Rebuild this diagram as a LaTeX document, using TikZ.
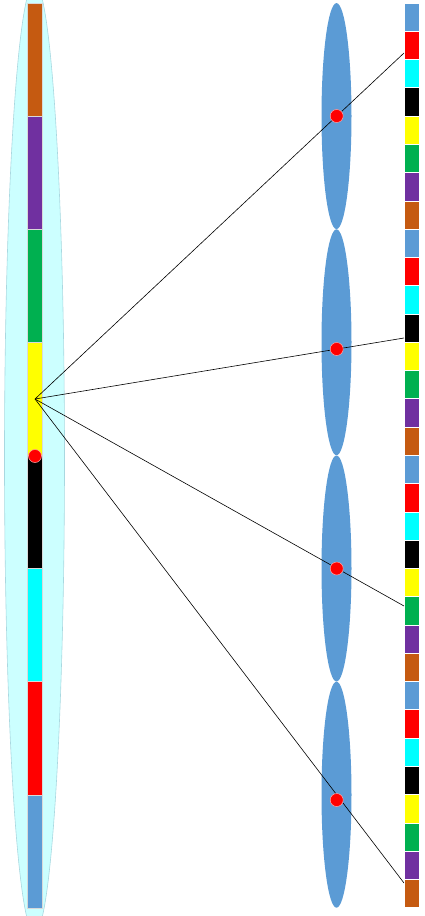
\documentclass[tikz,border=0pt]{standalone}
\usetikzlibrary{positioning,shapes.geometric}
\definecolor{orangeseg}{HTML}{C55A11}
\definecolor{purpleseg}{HTML}{7030A0}
\definecolor{greenseg}{HTML}{00B050}
\definecolor{yellowseg}{HTML}{FFFF00}
\definecolor{blackseg}{HTML}{000000}
\definecolor{cyanseg}{HTML}{00FFFF}
\definecolor{redseg}{HTML}{FF0000}
\definecolor{blueseg}{HTML}{5B9BD5}
\definecolor{paleaqua}{HTML}{CCFFFF}
\definecolor{aquarim}{HTML}{A9D8E0}
\tikzset{bigpod/.style={ellipse,draw=aquarim,line width=.6pt,fill=paleaqua,minimum width=60pt,minimum height=950pt,inner sep=0pt},lens/.style={ellipse,fill=blueseg,minimum width=30pt,minimum height=226pt,inner sep=0pt},lseg/.style={draw=white!85!black,line width=.4pt,minimum width=15pt,minimum height=113.1pt,inner sep=0pt},rseg/.style={draw=white,line width=.8pt,minimum width=15pt,minimum height=28.28pt,inner sep=0pt},ray/.style={black,line width=.6pt},reddot/.style={circle,fill=redseg,draw=red!35,line width=.5pt,minimum size=13pt,inner sep=0pt}}
\begin{document}
\begin{tikzpicture}[x=1pt,y=-1pt]
\useasboundingbox (0,0) rectangle (425,916);
\node[bigpod] (pod) at (34.5,458) {};
\foreach \c [count=\i] in {orangeseg,purpleseg,greenseg,yellowseg,blackseg,cyanseg,redseg,blueseg}
\node[lseg,fill=\c] (L\i) at (34.5,{3+113.1*(\i-.5)}) {};
\foreach \k in {1,...,4}{
\node[lens] (lens\k) at (336.5,{3+226.2*(\k-.5)}) {};
\foreach \c [count=\i] in {blueseg,redseg,cyanseg,blackseg,yellowseg,greenseg,purpleseg,orangeseg}
\node[rseg,fill=\c] (R\k-\i) at (411.5,{3+226.2*(\k-1)+28.28*(\i-.5)}) {};}
\coordinate (hub) at (35,399);
\coordinate (e1) at (404,53);
\coordinate (e2) at (404,338);
\coordinate (e3) at (404,606);
\coordinate (e4) at (404,883);
\foreach \k in {1,...,4} \draw[ray] (hub) -- (e\k);
\node[reddot] (d0) at (35,456) {};
\node[reddot] (d1) at (336.7,116) {};
\node[reddot] (d2) at (336.7,349) {};
\node[reddot] (d3) at (336.7,568.5) {};
\node[reddot] (d4) at (336.7,800) {};
\end{tikzpicture}
\end{document}
